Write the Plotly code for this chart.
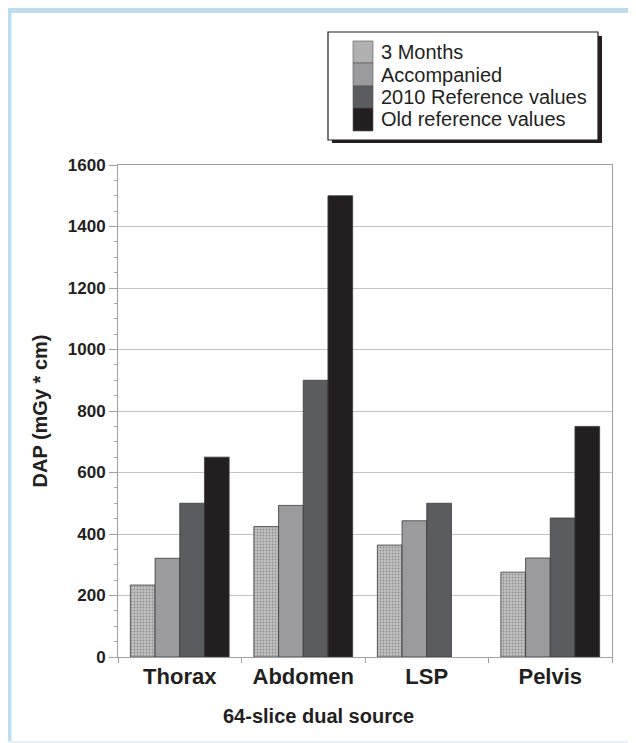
import plotly.graph_objects as go

categories = ["Thorax", "Abdomen", "LSP", "Pelvis"]
series_names = ["3 Months", "Accompanied", "2010 Reference values", "Old reference values"]
months3 = [234, 424, 364, 276]
accompanied = [321, 493, 443, 322]
ref2010 = [500, 900, 500, 452]
old_ref = [650, 1500, None, 750]
series_values = [months3, accompanied, ref2010, old_ref]
y_tick_vals = [0, 200, 400, 600, 800, 1000, 1200, 1400, 1600]
x_title = "64-slice dual source"
y_title = "DAP (mGy * cm)"

colors = ["#b4b4b4", "#9b9b9e", "#5b5c60", "#231f20"]

# page body adds an 8px margin; figure sized to fit the 636x743 window
OFF = 8
W, H = 636 - OFF, 743 - OFF
# screen-space plot area: x 118..612, y 165..657
L, R, T, B = 118 - OFF, W - (612 - OFF), 165 - OFF, H - (657 - OFF)
PW, PH = W - L - R, H - T - B


def px_x(px):
    return (px - OFF - L) / PW


def px_y(py):
    return (H - B - (py - OFF)) / PH


fig = go.Figure()
for i, (name, vals) in enumerate(zip(series_names, series_values)):
    marker = dict(color=colors[i], line=dict(color="#3a3a3a", width=0.8))
    if i == 0:
        marker["pattern"] = dict(shape=".", fgcolor="#8e8e8e", bgcolor="#c2c2c2",
                                 size=3, solidity=0.3, fillmode="replace")
    fig.add_trace(go.Bar(x=categories, y=vals, name=name, marker=marker,
                         showlegend=False))

fnt = "Liberation Sans, Arial, Helvetica, sans-serif"

fig.update_layout(
    width=W, height=H,
    margin=dict(l=L, r=R, t=T, b=B, pad=0),
    paper_bgcolor="white", plot_bgcolor="white",
    barmode="group", bargap=0.2, bargroupgap=0,
    font=dict(family=fnt, color="#231f20"),
)
fig.update_xaxes(
    showline=True, linecolor="#a0a0a0", linewidth=1, mirror=True,
    ticks="outside", tickson="boundaries", ticklen=5, tickcolor="#a0a0a0",
    tickfont=dict(size=22, family=fnt, color="#231f20", weight="bold"),
    showgrid=False,
)
fig.update_yaxes(
    range=[0, 1600], tickvals=y_tick_vals,
    showline=True, linecolor="#a0a0a0", linewidth=1, mirror=True,
    ticks="outside", ticklen=8, tickcolor="#a0a0a0",
    minor=dict(dtick=50, ticks="outside", ticklen=3, tickcolor="#a8a8a8", showgrid=False),
    showgrid=True, gridcolor="#c4c4c4", gridwidth=1,
    tickfont=dict(size=17, family=fnt, color="#231f20", weight="bold"),
    title=dict(text="<b>" + y_title + "</b>", font=dict(size=20, family=fnt, color="#231f20"),
               standoff=14),
    zeroline=False,
)

shapes = []
# blue frame strips
blue = "#bddcee"
shapes.append(dict(type="rect", xref="paper", yref="paper", x0=px_x(4), x1=px_x(11.5),
                   y0=px_y(745), y1=px_y(7), fillcolor=blue, line=dict(width=0), layer="below"))
shapes.append(dict(type="rect", xref="paper", yref="paper", x0=px_x(4), x1=px_x(640),
                   y0=px_y(13), y1=px_y(7), fillcolor=blue, line=dict(width=0), layer="below"))
shapes.append(dict(type="rect", xref="paper", yref="paper", x0=px_x(4), x1=px_x(640),
                   y0=px_y(743), y1=px_y(741), fillcolor="#e4f1f8", line=dict(width=0), layer="below"))

# legend box with shadow
shapes.append(dict(type="rect", xref="paper", yref="paper", x0=px_x(332), x1=px_x(602),
                   y0=px_y(143), y1=px_y(36), fillcolor="#231f20", line=dict(width=0)))
shapes.append(dict(type="rect", xref="paper", yref="paper", x0=px_x(328), x1=px_x(598),
                   y0=px_y(140), y1=px_y(32), fillcolor="white",
                   line=dict(color="#231f20", width=1.2)))

annotations = []
# x-axis title, centred on the whole panel as in the reference
annotations.append(dict(xref="paper", yref="paper", x=px_x(318), y=px_y(716),
                        text="<b>" + x_title + "</b>", showarrow=False,
                        xanchor="center", yanchor="middle",
                        font=dict(size=20, family=fnt, color="#231f20")))

row_tops = [41, 63, 86, 108]
row_h = [22, 23, 22, 23]
swatch_colors = ["#b0b0b0", colors[1], colors[2], colors[3]]
for i, name in enumerate(series_names):
    y0, y1 = row_tops[i], row_tops[i] + row_h[i]
    shapes.append(dict(type="rect", xref="paper", yref="paper", x0=px_x(353), x1=px_x(373),
                       y0=px_y(y1), y1=px_y(y0), fillcolor=swatch_colors[i],
                       line=dict(color="#555", width=0.6)))
    annotations.append(dict(xref="paper", yref="paper", x=px_x(379), y=px_y((y0 + y1) / 2),
                            text=name, showarrow=False, xanchor="left", yanchor="middle",
                            font=dict(size=20, family=fnt, color="#231f20")))

fig.update_layout(shapes=shapes, annotations=annotations)

fig.write_html("out.html")
